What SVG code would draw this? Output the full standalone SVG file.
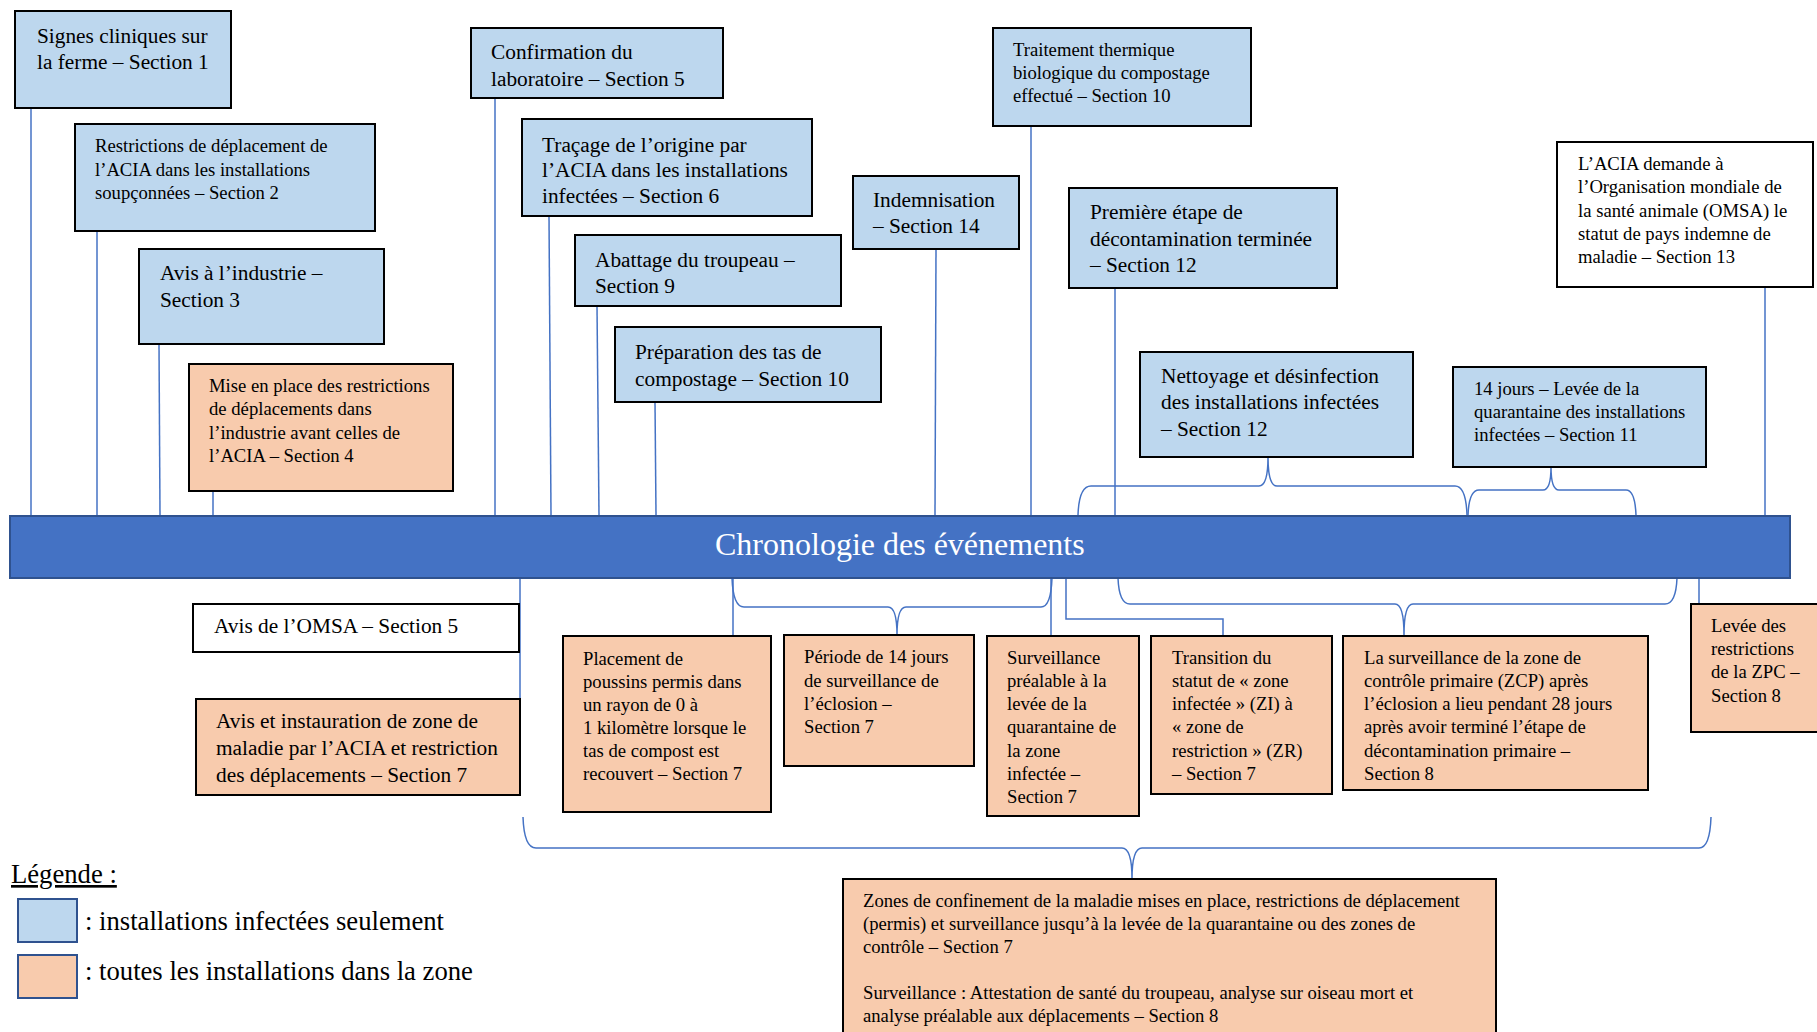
<svg xmlns="http://www.w3.org/2000/svg" width="1817" height="1032" viewBox="0 0 1817 1032">
<defs>
<style>
.blue{fill:#BDD7EE;stroke:#000;stroke-width:2}
.orange{fill:#F8CBAD;stroke:#000;stroke-width:2}
.white{fill:#FFFFFF;stroke:#000;stroke-width:2}
.t{font-family:"Liberation Serif","Times New Roman",serif;fill:#000}
.l{font-size:21.33px}
.s{font-size:18.67px}
.c{fill:none;stroke:#4472C4;stroke-width:1.5}
</style>
</defs>
<rect width="1817" height="1032" fill="#FFFFFF"/>

<g id="connectors">
<line class="c" x1="31" y1="108" x2="31" y2="515"/>
<line class="c" x1="97" y1="231" x2="97" y2="515"/>
<line class="c" x1="159" y1="344" x2="160" y2="515"/>
<line class="c" x1="213" y1="491" x2="213" y2="515"/>
<line class="c" x1="495" y1="98" x2="495" y2="515"/>
<line class="c" x1="549" y1="216" x2="551" y2="515"/>
<line class="c" x1="597" y1="306" x2="599" y2="515"/>
<line class="c" x1="655" y1="402" x2="656" y2="515"/>
<line class="c" x1="936" y1="249" x2="935" y2="515"/>
<line class="c" x1="1031" y1="126" x2="1031" y2="515"/>
<line class="c" x1="1115" y1="288" x2="1115" y2="515"/>
<line class="c" x1="1765" y1="287" x2="1765" y2="515"/>
<path class="c" d="M1078 515 Q1079 486 1091 486 L1259 486 Q1268 486 1268 457 Q1268 486 1277 486 L1455 486 Q1466 486 1467 515"/>
<path class="c" d="M1468 515 Q1469 490 1479 490 L1543 490 Q1551 490 1551 467 Q1551 490 1559 490 L1626 490 Q1635 490 1636 515"/>
<line class="c" x1="520" y1="578" x2="520" y2="699"/>
<line class="c" x1="733" y1="578" x2="733" y2="636"/>
<line class="c" x1="1051" y1="578" x2="1051" y2="636"/>
<path class="c" d="M732 578 Q733 607 744 607 L888 607 Q897 607 897 635 Q897 607 906 607 L1041 607 Q1051 607 1052 578"/>
<path class="c" d="M1066 578 L1066 619 L1223 619 L1223 636"/>
<path class="c" d="M1118 578 Q1119 604 1130 604 L1395 604 Q1404 604 1404 635 Q1404 604 1413 604 L1665 604 Q1676 604 1677 578"/>
<line class="c" x1="1699" y1="578" x2="1699" y2="604"/>
<path class="c" d="M523 817 Q524 848 536 848 L1122 848 Q1132 848 1132 879 Q1132 848 1142 848 L1699 848 Q1710 848 1711 817"/>
</g>

<g id="timeline">
<rect x="10" y="516" width="1780" height="62" fill="#4472C4" stroke="#2F528F" stroke-width="2"/>
<text x="715" y="555" font-family="Liberation Serif, Times New Roman, serif" font-size="32" fill="#FFFFFF">Chronologie des événements</text>
</g>

<g id="n1"><rect class="blue" x="15" y="11" width="216" height="97"/>
<text class="t l" x="37"><tspan x="37" y="43">Signes cliniques sur</tspan><tspan x="37" y="69">la ferme – Section 1</tspan></text></g>

<g id="n2"><rect class="blue" x="75" y="124" width="300" height="107"/>
<text class="t s" x="95"><tspan x="95" y="152">Restrictions de déplacement de</tspan><tspan x="95" y="176">l’ACIA dans les installations</tspan><tspan x="95" y="199">soupçonnées – Section 2</tspan></text></g>

<g id="n3"><rect class="blue" x="139" y="249" width="245" height="95"/>
<text class="t l"><tspan x="160" y="280">Avis à l’industrie –</tspan><tspan x="160" y="307">Section 3</tspan></text></g>

<g id="n4"><rect class="orange" x="189" y="364" width="264" height="127"/>
<text class="t s"><tspan x="209" y="392">Mise en place des restrictions</tspan><tspan x="209" y="415">de déplacements dans</tspan><tspan x="209" y="439">l’industrie avant celles de</tspan><tspan x="209" y="462">l’ACIA – Section 4</tspan></text></g>

<g id="n5"><rect class="blue" x="471" y="28" width="252" height="70"/>
<text class="t l"><tspan x="491" y="59">Confirmation du</tspan><tspan x="491" y="86">laboratoire – Section 5</tspan></text></g>

<g id="n6"><rect class="blue" x="522" y="119" width="290" height="97"/>
<text class="t l"><tspan x="542" y="152">Traçage de l’origine par</tspan><tspan x="542" y="177">l’ACIA dans les installations</tspan><tspan x="542" y="203">infectées – Section 6</tspan></text></g>

<g id="n7"><rect class="blue" x="575" y="235" width="266" height="71"/>
<text class="t l"><tspan x="595" y="267">Abattage du troupeau –</tspan><tspan x="595" y="293">Section 9</tspan></text></g>

<g id="n8"><rect class="blue" x="615" y="327" width="266" height="75"/>
<text class="t l"><tspan x="635" y="359">Préparation des tas de</tspan><tspan x="635" y="386">compostage – Section 10</tspan></text></g>

<g id="n9"><rect class="blue" x="853" y="176" width="166" height="73"/>
<text class="t l"><tspan x="873" y="207">Indemnisation</tspan><tspan x="873" y="233">– Section 14</tspan></text></g>

<g id="n10"><rect class="blue" x="993" y="28" width="258" height="98"/>
<text class="t s"><tspan x="1013" y="56">Traitement thermique</tspan><tspan x="1013" y="79">biologique du compostage</tspan><tspan x="1013" y="102">effectué – Section 10</tspan></text></g>

<g id="n11"><rect class="blue" x="1069" y="188" width="268" height="100"/>
<text class="t l"><tspan x="1090" y="219">Première étape de</tspan><tspan x="1090" y="246">décontamination terminée</tspan><tspan x="1090" y="272">– Section 12</tspan></text></g>

<g id="n12"><rect class="blue" x="1140" y="352" width="273" height="105"/>
<text class="t l"><tspan x="1161" y="383">Nettoyage et désinfection</tspan><tspan x="1161" y="409">des installations infectées</tspan><tspan x="1161" y="436">– Section 12</tspan></text></g>

<g id="n13"><rect class="white" x="1557" y="142" width="256" height="145"/>
<text class="t s"><tspan x="1578" y="170">L’ACIA demande à</tspan><tspan x="1578" y="193">l’Organisation mondiale de</tspan><tspan x="1578" y="217">la santé animale (OMSA) le</tspan><tspan x="1578" y="240">statut de pays indemne de</tspan><tspan x="1578" y="263">maladie – Section 13</tspan></text></g>

<g id="n14"><rect class="blue" x="1453" y="367" width="253" height="100"/>
<text class="t s"><tspan x="1474" y="395">14 jours – Levée de la</tspan><tspan x="1474" y="418">quarantaine des installations</tspan><tspan x="1474" y="441">infectées – Section 11</tspan></text></g>

<g id="n15"><rect class="white" x="193" y="604" width="326" height="48"/>
<text class="t l"><tspan x="214" y="633">Avis de l’OMSA – Section 5</tspan></text></g>

<g id="n16"><rect class="orange" x="196" y="699" width="324" height="96"/>
<text class="t l"><tspan x="216" y="728">Avis et instauration de zone de</tspan><tspan x="216" y="755">maladie par l’ACIA et restriction</tspan><tspan x="216" y="782">des déplacements – Section 7</tspan></text></g>

<g id="n17"><rect class="orange" x="563" y="636" width="208" height="176"/>
<text class="t s"><tspan x="583" y="665">Placement de</tspan><tspan x="583" y="688">poussins permis dans</tspan><tspan x="583" y="711">un rayon de 0 à</tspan><tspan x="583" y="734">1 kilomètre lorsque le</tspan><tspan x="583" y="757">tas de compost est</tspan><tspan x="583" y="780">recouvert – Section 7</tspan></text></g>

<g id="n18"><rect class="orange" x="784" y="635" width="190" height="131"/>
<text class="t s"><tspan x="804" y="663">Période de 14 jours</tspan><tspan x="804" y="687">de surveillance de</tspan><tspan x="804" y="710">l’éclosion –</tspan><tspan x="804" y="733">Section 7</tspan></text></g>

<g id="n19"><rect class="orange" x="987" y="636" width="152" height="180"/>
<text class="t s"><tspan x="1007" y="664">Surveillance</tspan><tspan x="1007" y="687">préalable à la</tspan><tspan x="1007" y="710">levée de la</tspan><tspan x="1007" y="733">quarantaine de</tspan><tspan x="1007" y="757">la zone</tspan><tspan x="1007" y="780">infectée –</tspan><tspan x="1007" y="803">Section 7</tspan></text></g>

<g id="n20"><rect class="orange" x="1151" y="636" width="181" height="158"/>
<text class="t s"><tspan x="1172" y="664">Transition du</tspan><tspan x="1172" y="687">statut de « zone</tspan><tspan x="1172" y="710">infectée » (ZI) à</tspan><tspan x="1172" y="733">« zone de</tspan><tspan x="1172" y="757">restriction » (ZR)</tspan><tspan x="1172" y="780">– Section 7</tspan></text></g>

<g id="n21"><rect class="orange" x="1343" y="636" width="305" height="154"/>
<text class="t s"><tspan x="1364" y="664">La surveillance de la zone de</tspan><tspan x="1364" y="687">contrôle primaire (ZCP) après</tspan><tspan x="1364" y="710">l’éclosion a lieu pendant 28 jours</tspan><tspan x="1364" y="733">après avoir terminé l’étape de</tspan><tspan x="1364" y="757">décontamination primaire –</tspan><tspan x="1364" y="780">Section 8</tspan></text></g>

<g id="n22"><rect class="orange" x="1691" y="604" width="140" height="128"/>
<text class="t s"><tspan x="1711" y="632">Levée des</tspan><tspan x="1711" y="655">restrictions</tspan><tspan x="1711" y="678">de la ZPC –</tspan><tspan x="1711" y="702">Section 8</tspan></text></g>

<g id="n23"><rect class="orange" x="843" y="879" width="653" height="170"/>
<text class="t s"><tspan x="863" y="907">Zones de confinement de la maladie mises en place, restrictions de déplacement</tspan><tspan x="863" y="930">(permis) et surveillance jusqu’à la levée de la quarantaine ou des zones de</tspan><tspan x="863" y="953">contrôle – Section 7</tspan><tspan x="863" y="999">Surveillance : Attestation de santé du troupeau, analyse sur oiseau mort et</tspan><tspan x="863" y="1022">analyse préalable aux déplacements – Section 8</tspan></text></g>

<g id="legend">
<text class="t" x="11" y="883" font-size="26.67" text-decoration="underline">Légende :</text>
<rect x="18" y="899" width="59" height="43" fill="#BDD7EE" stroke="#2F528F" stroke-width="2"/>
<text class="t" x="85" y="930" font-size="26.67">: installations infectées seulement</text>
<rect x="18" y="955" width="59" height="43" fill="#F8CBAD" stroke="#2F528F" stroke-width="2"/>
<text class="t" x="85" y="980" font-size="26.67">: toutes les installations dans la zone</text>
</g>
</svg>
